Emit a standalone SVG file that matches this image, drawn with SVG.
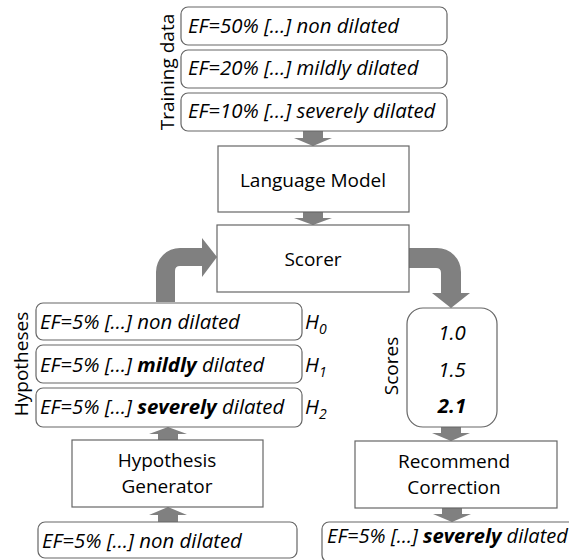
<svg xmlns="http://www.w3.org/2000/svg" width="569" height="560" viewBox="0 0 569 560">
<style>
text{font-family:"Open Sans","Noto Sans","Liberation Sans",sans-serif;font-size:19px;fill:#000}
.it{font-style:italic;font-size:20.4px}
.b{font-weight:bold}
.c{text-anchor:middle}
.box{fill:#fff;stroke:#666;stroke-width:1.2}
.arr{fill:#808080;stroke:none}
.sub{font-size:14px}
</style>
<rect width="569" height="560" fill="#fff"/>
<g id="connectors">
<path class="arr" d="M303,131 L323,131 L323,138 L332,138 L313,146 L294,138 L303,138 Z"/>
<path class="arr" d="M303,212 L323,212 L323,218 L332,218 L313,225 L294,218 L303,218 Z"/>
<path class="arr" d="M156,302 L156,272 A24,24 0 0 1 180,248 L202,248 L202,238 L217,257 L202,277 L202,266 L180,266 Q175,266 175,271 L175,302 Z"/>
<path class="arr" d="M409,248 L437,248 A24,24 0 0 1 461,272 L461,293 L470,293 L451,308 L432,293 L441,293 L441,273 Q441,268 436,268 L409,268 Z"/>
<path class="arr" d="M441,427 L461,427 L461,433 L470,433 L451,441 L432,433 L441,433 Z"/>
<path class="arr" d="M442,508 L462,508 L462,514 L471,514 L452,522 L433,514 L442,514 Z"/>
<path class="arr" d="M158,440 L178,440 L178,434 L187,434 L168,427 L149,434 L158,434 Z"/>
<path class="arr" d="M158,522 L178,522 L178,515 L187,515 L168,507 L149,515 L158,515 Z"/>
</g>
<g id="training-label"><text transform="translate(174,72) rotate(-90)" class="c">Training data</text></g>
<g id="train1"><rect class="box" x="181" y="7" width="266" height="38" rx="7"/><text class="it" x="188" y="33">EF=50% […] non dilated</text></g>
<g id="train2"><rect class="box" x="181" y="50" width="266" height="38" rx="7"/><text class="it" x="188" y="75">EF=20% […] mildly dilated</text></g>
<g id="train3"><rect class="box" x="181" y="93" width="266" height="38" rx="7"/><text class="it" x="188" y="118">EF=10% […] severely dilated</text></g>
<g id="language-model"><rect class="box" x="218" y="146" width="191" height="66"/><text class="c" x="313" y="187">Language Model</text></g>
<g id="scorer"><rect class="box" x="217" y="225" width="192" height="67"/><text class="c" x="313" y="266">Scorer</text></g>
<g id="hyp-label"><text transform="translate(28,364) rotate(-90)" class="c">Hypotheses</text></g>
<g id="hyp0"><rect class="box" x="36" y="303" width="266" height="37" rx="7"/><text class="it" x="40" y="329">EF=5% […] non dilated</text><text class="it" x="305" y="329">H<tspan class="sub" dy="5">0</tspan></text></g>
<g id="hyp1"><rect class="box" x="36" y="345" width="266" height="38" rx="7"/><text class="it" x="40" y="372">EF=5% […] <tspan class="b">mildly</tspan> dilated</text><text class="it" x="305" y="372">H<tspan class="sub" dy="5">1</tspan></text></g>
<g id="hyp2"><rect class="box" x="36" y="388" width="266" height="39" rx="7"/><text class="it" x="40" y="414">EF=5% […] <tspan class="b">severely</tspan> dilated</text><text class="it" x="305" y="414">H<tspan class="sub" dy="5">2</tspan></text></g>
<g id="scores-label"><text transform="translate(398,366) rotate(-90)" class="c">Scores</text></g>
<g id="scores"><rect class="box" x="407" y="308" width="90" height="119" rx="16"/><text class="it c" x="452" y="340">1.0</text><text class="it c" x="452" y="377">1.5</text><text class="it b c" x="452" y="413">2.1</text></g>
<g id="hypothesis-generator"><rect class="box" x="72" y="440" width="191" height="67"/><text class="c" x="167" y="467">Hypothesis</text><text class="c" x="167" y="493">Generator</text></g>
<g id="recommend"><rect class="box" x="355" y="441" width="202" height="67"/><text class="c" x="454" y="468">Recommend</text><text class="c" x="454" y="494">Correction</text></g>
<g id="input"><rect class="box" x="38" y="522" width="259" height="36" rx="7"/><text class="it" x="42" y="548">EF=5% […] non dilated</text></g>
<g id="output"><rect class="box" x="322" y="522" width="270" height="40" rx="7"/><text class="it" x="327" y="543" textLength="241" lengthAdjust="spacingAndGlyphs">EF=5% […] <tspan class="b">severely</tspan> dilated</text></g>
</svg>
